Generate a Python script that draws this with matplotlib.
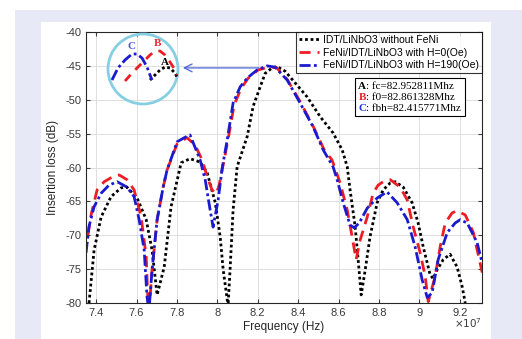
import numpy as np
import matplotlib
matplotlib.use("Agg")
import matplotlib.pyplot as plt
from matplotlib.patches import Rectangle, Circle
from matplotlib.ticker import FuncFormatter, MultipleLocator
from matplotlib.offsetbox import TextArea, HPacker, VPacker, AnchoredOffsetbox

plt.rcParams['font.family'] = ['Liberation Sans', 'DejaVu Sans']
plt.rcParams['axes.unicode_minus'] = False

# frequencies in units of 1e7 Hz, insertion loss in dB
freq_black = [7.365, 7.39, 7.425, 7.474, 7.524, 7.553, 7.603, 7.648, 7.677, 7.702,
              7.737, 7.771, 7.821, 7.865, 7.915, 7.95, 7.99, 8.014, 8.029, 8.049,
              8.053, 8.063, 8.078, 8.098, 8.148, 8.177, 8.212, 8.237, 8.271, 8.296,
              8.336, 8.445, 8.509, 8.573, 8.618, 8.643, 8.657, 8.682, 8.697, 8.712,
              8.732, 8.756, 8.791, 8.821, 8.855, 8.88, 8.92, 8.964, 8.994, 9.019,
              9.053, 9.068, 9.088, 9.118, 9.152, 9.187, 9.212, 9.227]
loss_black = [-80, -72.2, -67.3, -64.3, -63.0, -62.9, -64.5, -67.7, -72.2, -78.8,
              -74.7, -65.8, -59.3, -58.7, -59.2, -60.8, -65.2, -70.2, -75.1, -79.5,
              -80.5, -75.1, -66.3, -59.9, -55.4, -51.0, -48.1, -46.1, -45.3, -45.1,
              -45.8, -49.6, -52.5, -54.9, -57.4, -59.9, -63.3, -68.7, -73.6, -78.8,
              -75.1, -70.2, -65.2, -63.3, -62.3, -62.1, -62.9, -65.2, -68.2, -71.7,
              -75.8, -76.4, -75.1, -73.6, -72.8, -74.7, -77.6, -80]

freq_red = [7.346, 7.375, 7.405, 7.44, 7.48, 7.514, 7.553, 7.588, 7.623, 7.648,
            7.657, 7.662, 7.677, 7.702, 7.732, 7.751, 7.801, 7.85, 7.89, 7.925,
            7.95, 7.974, 7.994, 8.009, 8.029, 8.053, 8.083, 8.118, 8.153, 8.202,
            8.252, 8.291, 8.346, 8.41, 8.474, 8.529, 8.568, 8.608, 8.643, 8.667,
            8.687, 8.707, 8.742, 8.771, 8.796, 8.821, 8.856, 8.905, 8.94, 8.969,
            9.004, 9.029, 9.044, 9.078, 9.103, 9.128, 9.162, 9.187, 9.227, 9.267,
            9.311]
loss_red = [-72.6, -67.0, -63.3, -62.1, -61.4, -61.1, -61.8, -63.3, -67.3, -73.2,
            -80, -81.3, -75.1, -67.7, -62.9, -60.4, -56.5, -55.6, -56.7, -58.9,
            -61.4, -63.3, -63.9, -62.6, -59.6, -55.9, -50.8, -48.3, -46.8, -45.6,
            -45.2, -45.2, -47.0, -50.3, -53.9, -57.4, -58.9, -62.3, -66.3, -70.2,
            -73.6, -70.7, -67.3, -63.8, -62.6, -62.1, -61.8, -62.9, -64.8, -68.7,
            -72.6, -76.1, -79.8, -76.1, -71.7, -68.2, -66.7, -66.4, -67.0, -69.6,
            -75.5]

freq_blue = [7.35, 7.365, 7.39, 7.425, 7.464, 7.504, 7.553, 7.588, 7.613, 7.638,
             7.652, 7.662, 7.677, 7.702, 7.732, 7.751, 7.801, 7.855, 7.865, 7.915,
             7.94, 7.964, 7.979, 8.004, 8.024, 8.049, 8.078, 8.113, 8.148, 8.197,
             8.247, 8.286, 8.346, 8.41, 8.474, 8.524, 8.573, 8.593, 8.623, 8.657,
             8.677, 8.702, 8.742, 8.791, 8.84, 8.89, 8.94, 8.979, 9.014, 9.039,
             9.063, 9.093, 9.138, 9.177, 9.202, 9.237, 9.286, 9.311]
loss_blue = [-72.6, -68.7, -65.8, -63.8, -62.6, -62.1, -62.9, -64.3, -67.7, -72.2,
             -79.1, -81, -75.1, -67.7, -62.9, -60.4, -56.2, -55.3, -55.2, -58.9,
             -61.8, -66.2, -68.8, -64.8, -60.1, -55.9, -50.5, -48.1, -46.8, -45.6,
             -45.0, -45.2, -47.1, -50.5, -54.0, -57.4, -59.9, -61.8, -65.2, -68.5,
             -68.9, -68.2, -66.0, -64.5, -63.6, -65.2, -67.7, -71.7, -76.6, -79.2,
             -78.5, -73.6, -69.6, -68.2, -67.7, -68.2, -71.1, -74.1]

labels = ['IDT/LiNbO3 without FeNi',
          'FeNi/IDT/LiNbO3 with H=0(Oe)',
          'FeNi/IDT/LiNbO3 with H=190(Oe)']

box_letters = ['A', 'B', 'C']
box_texts = [': fc=82.952811Mhz', ': f0=82.861328Mhz', ': fbh=82.415771Mhz']
box_colors = ['black', '#e8202a', '#2030d8']

# zoomed peak sketch inside the circle (local units)
inset_blue_x = [5, 11, 18, 25, 30, 35, 40, 43, 45]
inset_blue_y = [25, 37, 45, 51, 51, 47, 38, 30, 25]
inset_red_x = [18, 26, 35, 43, 48, 53, 58, 63, 68, 70]
inset_red_y = [24, 33, 42, 50, 54, 54, 50, 43, 35, 30]
inset_black_x = [43, 48, 53, 58, 63, 68, 70]
inset_black_y = [25, 30, 35, 38, 37, 32, 28]

arrow_from = (8.22, -45.3)
arrow_to = (7.816, -45.3)

fig = plt.figure(figsize=(5.22, 3.39), dpi=100)
fig.patches.append(Rectangle((15 / 522, 0), 507 / 522, 329 / 339, transform=fig.transFigure,
                             facecolor='#e7eaf6', edgecolor='none', zorder=-10))
fig.patches.append(Rectangle((41 / 522, 0), 450 / 522, 317 / 339, transform=fig.transFigure,
                             facecolor='white', edgecolor='none', zorder=-9))

ax = fig.add_axes([86 / 522, 1 - 303 / 339, 396 / 522, 271 / 339])

ax.plot(np.array(freq_black) * 1e7, loss_black, color='black', ls=(0, (1, 1)), lw=2.0, label=labels[0])
ax.plot(np.array(freq_red) * 1e7, loss_red, color='#ee1c25', ls=(0, (4, 2.5)), lw=2.0, label=labels[1])
ax.plot(np.array(freq_blue) * 1e7, loss_blue, color='#1a1ad0', ls=(0, (4, 1.2, 1, 1.2)), lw=2.0, label=labels[2])

ax.set_xlim(7.35e7, 9.31e7)
ax.set_ylim(-80, -40)
ax.xaxis.set_major_locator(MultipleLocator(0.2e7))
ax.yaxis.set_major_locator(MultipleLocator(5))
ax.xaxis.set_major_formatter(FuncFormatter(lambda v, p: f"{v / 1e7:g}"))
ax.grid(True, color='#dedede', lw=0.7)
ax.set_axisbelow(True)
ax.tick_params(direction='in', top=True, right=True, labelsize=8, colors='#3a3a3a', length=3)
for s in ax.spines.values():
    s.set_color('#262626')
    s.set_linewidth(0.8)

ax.set_xlabel('Frequency (Hz)', fontsize=8.5, color='#262626', labelpad=2)
ax.set_ylabel('Insertion loss (dB)', fontsize=8.5, color='#262626', labelpad=4)
ax.text(1.0, -0.05, r'$\times10^{7}$', transform=ax.transAxes, ha='right', va='top',
        fontsize=7.5, color='#3a3a3a')

leg = ax.legend(loc='upper right', fontsize=7.5, frameon=True, fancybox=False, borderaxespad=0,
                handlelength=1.9, handletextpad=0.4, labelspacing=0.25, borderpad=0.3)
leg.get_frame().set_edgecolor('black')
leg.get_frame().set_linewidth(0.8)

rows = []
for letter, rest, col in zip(box_letters, box_texts, box_colors):
    rows.append(HPacker(children=[
        TextArea(letter, textprops=dict(color=col, family='Liberation Serif', size=8, weight='bold')),
        TextArea(rest, textprops=dict(color='black', family='Liberation Serif', size=8))],
        align='baseline', pad=0, sep=0))
box = VPacker(children=rows, align='left', pad=0, sep=1.5)
anch = AnchoredOffsetbox(loc='upper left', child=box, pad=0.25, frameon=True,
                         bbox_to_anchor=(0.679, 0.83), bbox_transform=ax.transAxes, borderpad=0)
anch.patch.set_boxstyle('square', pad=0)
anch.patch.set_edgecolor('black')
anch.patch.set_linewidth(0.8)
ax.add_artist(anch)

ax.annotate('', xy=(arrow_to[0] * 1e7, arrow_to[1]), xytext=(arrow_from[0] * 1e7, arrow_from[1]),
            arrowprops=dict(arrowstyle='->', color='#4a66d8', lw=0.9, mutation_scale=14))

axins = fig.add_axes([107 / 522, 1 - 105 / 339, 72 / 522, 72 / 339])
axins.set_xlim(0, 72)
axins.set_ylim(0, 72)
axins.axis('off')
axins.patch.set_alpha(0)
axins.plot(inset_black_x, inset_black_y, color='black', ls=(0, (1, 1)), lw=2.0)
axins.plot(inset_red_x, inset_red_y, color='#ee1c25', ls=(0, (3, 2.5)), lw=2.0)
axins.plot(inset_blue_x, inset_blue_y, color='#1a1ad0', ls=(0, (4, 1.2, 1, 1.2)), lw=2.0)
axins.add_patch(Circle((36, 36), 35, fill=False, edgecolor='#86cfe3', lw=2, clip_on=False))
axins.text(25, 56, 'C', color='#4a55d8', family='Liberation Serif', fontsize=8, weight='bold', ha='center')
axins.text(50, 59, 'B', color='#ee2a30', family='Liberation Serif', fontsize=8, weight='bold', ha='center')
axins.text(58, 40, 'A', color='black', family='Liberation Serif', fontsize=8, weight='bold', ha='center')

fig.savefig('out.png', dpi=100)
